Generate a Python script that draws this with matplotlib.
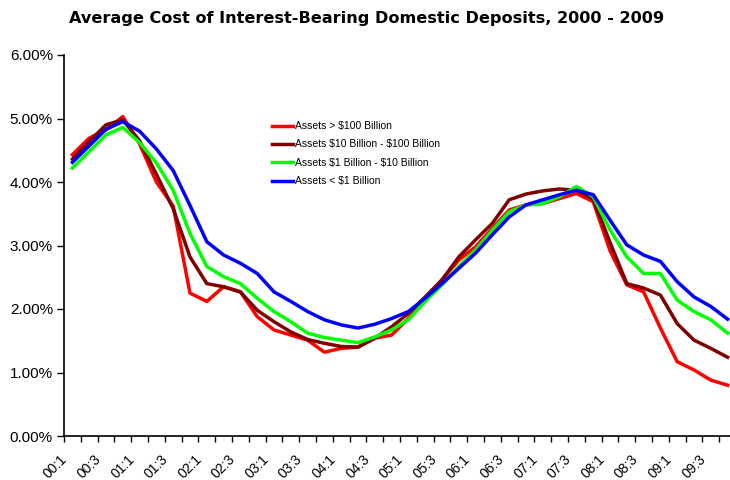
import matplotlib
matplotlib.use("Agg")
import matplotlib.pyplot as plt
import matplotlib.transforms as mtransforms
import numpy as np

quarters = [f"{y:02d}:{q}" for y in range(10) for q in range(1, 5)]

assets_over_100b = [4.43, 4.69, 4.82, 5.03, 4.60, 4.00, 3.62, 2.25, 2.12, 2.35,
                    2.27, 1.88, 1.67, 1.59, 1.51, 1.32, 1.38, 1.40, 1.54, 1.59,
                    1.85, 2.14, 2.46, 2.77, 2.98, 3.27, 3.56, 3.64, 3.66, 3.74,
                    3.82, 3.69, 2.92, 2.38, 2.27, 1.70, 1.17, 1.04, 0.88, 0.80]
assets_10b_100b = [4.36, 4.64, 4.90, 4.98, 4.65, 4.12, 3.58, 2.82, 2.40, 2.35,
                   2.27, 1.98, 1.80, 1.64, 1.52, 1.46, 1.41, 1.40, 1.54, 1.72,
                   1.93, 2.19, 2.46, 2.82, 3.09, 3.35, 3.72, 3.81, 3.86, 3.89,
                   3.87, 3.73, 3.05, 2.40, 2.33, 2.22, 1.77, 1.51, 1.38, 1.24]
assets_1b_10b = [4.22, 4.48, 4.74, 4.86, 4.62, 4.30, 3.87, 3.19, 2.67, 2.51,
                 2.40, 2.17, 1.96, 1.80, 1.62, 1.55, 1.51, 1.47, 1.56, 1.67,
                 1.83, 2.12, 2.38, 2.67, 2.93, 3.24, 3.53, 3.64, 3.66, 3.77,
                 3.93, 3.77, 3.25, 2.82, 2.56, 2.56, 2.14, 1.96, 1.83, 1.62]
assets_under_1b = [4.31, 4.57, 4.83, 4.95, 4.80, 4.52, 4.18, 3.63, 3.06, 2.85,
                   2.72, 2.56, 2.27, 2.12, 1.96, 1.83, 1.75, 1.70, 1.76, 1.85,
                   1.96, 2.17, 2.40, 2.64, 2.88, 3.17, 3.45, 3.64, 3.72, 3.80,
                   3.87, 3.80, 3.40, 3.01, 2.85, 2.75, 2.43, 2.19, 2.04, 1.84]

series = [
    ("Assets > \\$100 Billion", assets_over_100b, "#ff0000"),
    ("Assets \\$10 Billion - \\$100 Billion", assets_10b_100b, "#800000"),
    ("Assets \\$1 Billion - \\$10 Billion", assets_1b_10b, "#00ff00"),
    ("Assets < \\$1 Billion", assets_under_1b, "#0000ff"),
]

plt.rcParams['font.family'] = ['Liberation Sans', 'DejaVu Sans']

W, H = 730, 480
fig = plt.figure(figsize=(W / 100, H / 100), dpi=100)
left, right, top, bottom = 64, 736, 55, 436
ax = fig.add_axes([left / W, 1 - bottom / H, (right - left) / W, (bottom - top) / H])

x = np.arange(len(quarters))
for name, vals, col in series:
    ax.plot(x, vals, color=col, lw=2.5, label=name, solid_joinstyle='round')

ax.set_xlim(-0.5, len(quarters) - 0.5)
ax.set_ylim(0, 6)
ax.set_yticks(np.arange(0, 6.01, 1))
ax.set_yticklabels([f"{v:.2f}%" for v in np.arange(0, 6.01, 1)], fontsize=11)
ax.set_xticks(x[::2] - 0.5)
ax.set_xticklabels(quarters[::2], rotation=45, ha='right', va='top',
                   rotation_mode='anchor', fontsize=10)
ax.set_xticks(np.arange(-0.5, len(quarters), 1), minor=True)
ax.tick_params(axis='x', which='both', length=4, width=1, direction='out', pad=6)
ax.tick_params(axis='y', length=5, width=1, direction='out', pad=3)
offset = mtransforms.ScaledTranslation(-4 / 100, -2 / 100, fig.dpi_scale_trans)
for lab in ax.get_xticklabels():
    lab.set_transform(lab.get_transform() + offset)

for s in ['top', 'right']:
    ax.spines[s].set_visible(False)
for s in ['left', 'bottom']:
    ax.spines[s].set_linewidth(1.2)

fig.text(0.5 + 2 / W, 1 - 18 / H, "Average Cost of Interest-Bearing Domestic Deposits, 2000 - 2009",
         ha='center', va='center', fontsize=11.6, fontweight='bold',
         family=['DejaVu Sans'])

ax.legend(loc='upper left', bbox_to_anchor=((268 - left) / (right - left), (bottom - 117) / (bottom - top)),
          frameon=False, fontsize=7.5, handlelength=2.0, handletextpad=0.2,
          labelspacing=0.8, borderaxespad=0)

fig.savefig("out.png", dpi=100)
